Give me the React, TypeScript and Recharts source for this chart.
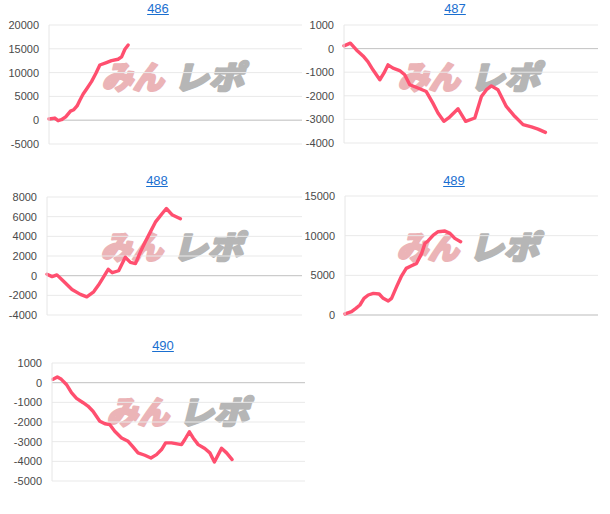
import React from "react";
import { LineChart, Line, XAxis, YAxis, CartesianGrid, ReferenceLine } from "recharts";

// ---- data (x = progress through the day in %, y = coin difference) ----
const titles = ["486", "487", "488", "489", "490"];

const x486 = [0, 2.3, 3.6, 4.9, 6.6, 8.5, 9.8, 11.1, 12.2, 13.5, 14.8, 16.8, 18.5, 20.1, 22.7, 24.7, 27.3, 28.7, 30.0, 31.3];
const y486 = [250, 450, -100, 100, 700, 1900, 2200, 3000, 4200, 5500, 6500, 8100, 9800, 11600, 12100, 12500, 12800, 13300, 14900, 15800];

const x487 = [0, 2.5, 4.9, 7.5, 9.4, 11.4, 14.1, 15.7, 17.3, 19.3, 21.9, 23.9, 25.9, 29.1, 32.4, 35.0, 37.0, 39.3, 41.6, 44.9, 47.9, 51.5, 54.1, 56.1, 58.0, 60.6, 63.9, 67.2, 70.5, 73.8, 76.4, 79.3];
const y487 = [115, 230, -55, -310, -550, -900, -1320, -1040, -690, -830, -930, -1110, -1530, -1670, -1820, -2310, -2730, -3080, -2900, -2550, -3080, -2940, -2030, -1740, -1580, -1740, -2450, -2870, -3220, -3320, -3410, -3550];

const x488 = [0, 2.0, 3.9, 6.5, 9.8, 13.1, 15.6, 18.3, 20.2, 22.2, 24.0, 25.6, 28.1, 30.7, 32.7, 34.7, 36.6, 38.5, 40.5, 42.5, 45.1, 46.8, 49.0, 52.3];
const y488 = [150, -100, 80, -560, -1400, -1900, -2150, -1640, -960, -120, 650, 300, 500, 1870, 1350, 1230, 2400, 3420, 4430, 5440, 6290, 6830, 6200, 5790];

const x489 = [0, 2.6, 4.3, 5.9, 7.5, 9.2, 11.2, 13.5, 15.1, 17.1, 18.4, 20.4, 22.2, 24.2, 26.3, 28.3, 30.3, 31.6, 32.9, 34.9, 36.8, 39.5, 41.5, 43.4, 45.7];
const y489 = [130, 420, 840, 1260, 2100, 2520, 2730, 2650, 2100, 1760, 2100, 3570, 4830, 5880, 6210, 6510, 7770, 9030, 9360, 10080, 10500, 10580, 10290, 9660, 9240];

const x490 = [0.4, 2.1, 3.7, 5.7, 7.7, 9.7, 12.3, 14.2, 16.2, 18.9, 20.9, 22.8, 24.8, 27.5, 30.1, 32.1, 34.0, 36.7, 39.1, 41.3, 43.3, 44.9, 47.2, 51.2, 52.5, 54.3, 55.8, 57.8, 60.4, 62.4, 64.2, 67.0, 69.0, 71.2];
const y490 = [170, 290, 170, -90, -510, -800, -1020, -1190, -1450, -1960, -2090, -2130, -2470, -2810, -2980, -3280, -3570, -3690, -3830, -3660, -3400, -3060, -3060, -3150, -2890, -2500, -2810, -3150, -3350, -3570, -4030, -3340, -3570, -3910];

const ticks486 = [-5000, 0, 5000, 10000, 15000, 20000];
const ticks487 = [-4000, -3000, -2000, -1000, 0, 1000];
const ticks488 = [-4000, -2000, 0, 2000, 4000, 6000, 8000];
const ticks489 = [0, 5000, 10000, 15000];
const ticks490 = [-5000, -4000, -3000, -2000, -1000, 0, 1000];

const xs = [x486, x487, x488, x489, x490];
const ys = [y486, y487, y488, y489, y490];
const tickSets = [ticks486, ticks487, ticks488, ticks489, ticks490];

// ---- layout ----
const panels = [
  { left: 0, top: 0, yw: 49, mt: 25, mb: 26, mr: 8, titleX: 158, wmX: 174 },
  { left: 300, top: 0, yw: 44, mt: 25, mb: 27, mr: 12, titleX: 455, wmX: 470 },
  { left: 0, top: 170, yw: 47, mt: 27, mb: 25, mr: 8, titleX: 157, wmX: 173 },
  { left: 300, top: 170, yw: 45, mt: 26, mb: 25, mr: 12, titleX: 454, wmX: 469 },
  { left: 0, top: 335, yw: 52, mt: 28, mb: 24, mr: 5, titleX: 163, wmX: 179 },
];

const FONT = "'Liberation Sans', Arial, sans-serif";

function Watermark({ cx, cy }: { cx: number; cy: number }) {
  const common = {
    fontFamily: "'Noto Sans CJK JP', sans-serif",
    fontWeight: 900 as const,
    fontSize: 32,
    lengthAdjust: "spacingAndGlyphs" as const,
    strokeWidth: 2.4,
    strokeLinejoin: "round" as const,
  };
  return (
    <svg
      width={160}
      height={40}
      style={{ position: "absolute", left: cx - 80, top: cy - 21, overflow: "visible" }}
    >
      <g transform="translate(8,0) skewX(-14)">
        <text x={8} y={33} fill="#ebb4b7" stroke="#ebb4b7" textLength={62} {...common}>
          みん
        </text>
        <text x={80} y={33} fill="#b6b6b6" stroke="#b6b6b6" textLength={70} {...common}>
          レポ
        </text>
      </g>
    </svg>
  );
}

export default function App() {
  return (
    <div style={{ position: "absolute", left: 0, top: 0, width: 610, height: 514, background: "#fff", fontFamily: FONT }}>
      {panels.map((p, i) => {
        const data = xs[i].map((x, k) => ({ x, v: ys[i][k] }));
        const ticks = tickSets[i];
        return (
          <React.Fragment key={titles[i]}>
            <Watermark cx={p.wmX} cy={p.top + 77} />
            <div style={{ position: "absolute", left: p.left, top: p.top, width: 310, height: 170 }}>
              <LineChart
                width={310}
                height={170}
                data={data}
                margin={{ top: p.mt, right: p.mr, bottom: p.mb, left: 0 }}
              >
                <CartesianGrid vertical={false} stroke="#e9e9e9" strokeWidth={1} />
                <XAxis dataKey="x" type="number" domain={[0, 100]} hide />
                <YAxis
                  width={p.yw}
                  type="number"
                  domain={[ticks[0], ticks[ticks.length - 1]]}
                  ticks={ticks}
                  interval={0}
                  tickLine={false}
                  tickSize={0}
                  tickMargin={10}
                  axisLine={{ stroke: "#e6e6e6" }}
                  tick={{ fill: "#4a4a4a", fontSize: 11, fontFamily: FONT }}
                />
                <ReferenceLine y={0} stroke="#c6c6c6" strokeWidth={1} />
                <Line
                  type="linear"
                  dataKey="v"
                  stroke="#ff4f6f"
                  strokeWidth={3.4}
                  strokeLinejoin="round"
                  strokeLinecap="round"
                  dot={false}
                  activeDot={false}
                  isAnimationActive={false}
                />
              </LineChart>
            </div>
            <a
              href="#"
              style={{
                position: "absolute",
                left: p.titleX - 30,
                width: 60,
                top: p.top + (i >= 2 ? 3 : 1),
                textAlign: "center",
                color: "#1a6fd0",
                fontSize: 13,
                fontFamily: FONT,
                textDecoration: "underline",
                lineHeight: "15px",
              }}
            >
              {titles[i]}
            </a>
          </React.Fragment>
        );
      })}
    </div>
  );
}
